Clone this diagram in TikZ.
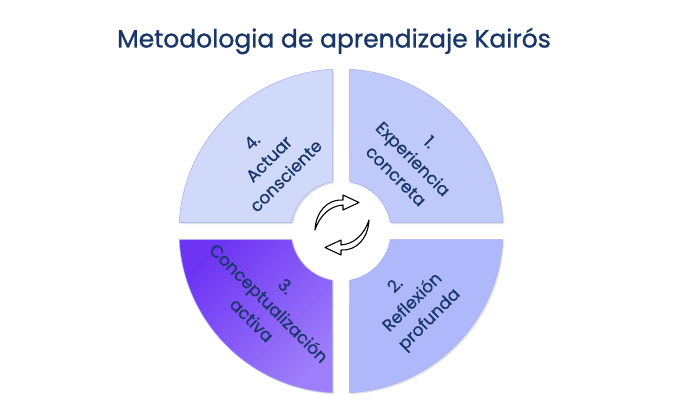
\documentclass[tikz,border=0pt]{standalone}
\usepackage{fontspec}
\setmainfont{Poppins}
\newfontfamily\heavyfont[FakeBold=1.1]{Poppins}
\newfontfamily\midfont[FakeBold=0.6]{Poppins}
\usetikzlibrary{shadows}

\definecolor{navy}{RGB}{24,54,104}
\definecolor{qone}{RGB}{192,202,250}
\definecolor{qtwo}{RGB}{176,184,252}
\definecolor{qfour}{RGB}{208,217,250}
\definecolor{pdark}{RGB}{110,52,244}
\definecolor{plight}{RGB}{158,126,250}
\definecolor{qedge}{RGB}{165,175,240}

% one quarter of the ring, #1 = angle where it starts
\newcommand\quarterpath[1]{(#1+3.008:162) arc[start angle=#1+3.008, end angle=#1+86.992, radius=162]
 -- (#1+80.21:50) arc[start angle=#1+80.21, end angle=#1+9.79, radius=50] -- cycle}

\tikzset{
 quad/.style={draw=qedge, line width=0.5pt,
  drop shadow={shadow xshift=1.5pt, shadow yshift=-1.5pt, opacity=0.18, fill=black!60}},
 lbl/.style={text=navy, align=center, inner sep=0pt, font=\midfont\fontsize{17}{24}\selectfont},
 cyc/.style={fill=white, draw=black, line width=1.1pt, line join=round},
}

\begin{document}
\begin{tikzpicture}[x=1pt,y=1pt]
\useasboundingbox[fill=white] (-341,-182) rectangle (347,231);
\node[text=navy, font=\heavyfont\fontsize{25}{30}\selectfont] (title) at (-7,190) {Metodologia de aprendizaje Kairós};

\fill[quad, fill=qone] \quarterpath{0};
\fill[quad, fill=qfour] \quarterpath{90};
\shade[quad, top color=pdark, bottom color=plight, shading angle=45] \quarterpath{180};
\fill[quad, fill=qtwo] \quarterpath{270};

\path
(45:102) node[lbl, rotate=-45] (exp) {1.\\Experiencia\\concreta}
(-45:102) node[lbl, rotate=45] (refl) {2.\\Reflexión\\profunda}
(-135:102) node[lbl, rotate=-45] (conc) {3.\\Conceptualización\\activa}
(135:102) node[lbl, rotate=45] (act) {4.\\Actuar\\consciente};

\begin{scope}[shift={(1,6)}]
\foreach \r in {0,180}
 \draw[cyc, rotate=\r] (-27,-5) .. controls (-22,10) and (-12,19) .. (1,20) -- (1,15) -- (17,22.5)
  -- (1,30) -- (1,25) .. controls (-14,26) and (-26,14) .. (-27,-5) -- cycle;
\end{scope}
%\draw[red] (0,0) circle (50);
\end{tikzpicture}
\end{document}
